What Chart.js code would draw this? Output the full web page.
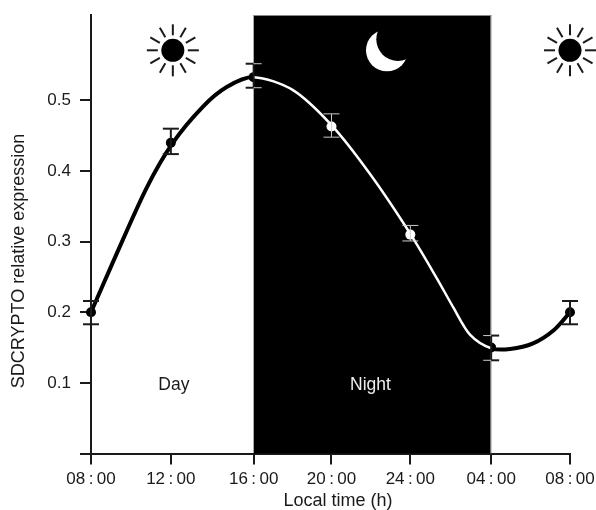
<!DOCTYPE html>
<html>
<head>
<meta charset="utf-8">
<script src="https://cdn.jsdelivr.net/npm/chart.js@4/dist/chart.umd.min.js"></script>
<style>
  html,body{margin:0;padding:0;background:#fff;}
  canvas{display:block;}
</style>
</head>
<body>
<canvas id="chart" width="596" height="510"></canvas>
<script>
// sampling hours, counted on from 08:00 so the axis keeps going past midnight
const sampleHours = [8, 12, 16.15, 20.05, 24, 28.05, 32];
const tickLabels = ['08\u2009:\u200900','12\u2009:\u200900','16\u2009:\u200900','20\u2009:\u200900','24\u2009:\u200900','04\u2009:\u200900','08\u2009:\u200900'];
const yTicks = [0, 0.1, 0.2, 0.3, 0.4, 0.5];
const meanValues = [0.2, 0.44, 0.533, 0.463, 0.31, 0.15, 0.2];
const errLow  = [0.183, 0.424, 0.518, 0.448, 0.301, 0.132, 0.183];
const errHigh = [0.216, 0.46, 0.552, 0.481, 0.323, 0.167, 0.216];

// the fitted curve
const curveHours  = [8, 9.1, 10.8, 12.1, 13.6, 14.8, 16.15, 18.1, 20.05, 22, 24, 25.35, 26.15, 27, 28.05, 29, 30.15, 31.2, 32];
const curveValues = [0.2, 0.271, 0.377, 0.44, 0.491, 0.519, 0.533, 0.515, 0.465, 0.395, 0.311, 0.247, 0.207, 0.168, 0.149, 0.148, 0.156, 0.175, 0.2];

const nightStart = 16.15, nightEnd = 28.05;
const sunHours = [12.1, 32];
const moonHour = 22.83;
const iconLevel = 0.571;
const labelLevel = 0.1;
const INK = '#1a1a1a';
const FONT = '"Liberation Sans", Arial, sans-serif';

const isNight = h => h > nightStart && h < nightEnd;

function drawSun(c, x, y){
  c.fillStyle = '#000'; c.strokeStyle = INK; c.lineWidth = 2;
  c.beginPath(); c.arc(x, y, 11.5, 0, Math.PI*2); c.fill();
  for(let i=0;i<12;i++){
    const a = i*Math.PI/6;
    c.beginPath();
    c.moveTo(x + Math.cos(a)*15, y + Math.sin(a)*15);
    c.lineTo(x + Math.cos(a)*26, y + Math.sin(a)*26);
    c.stroke();
  }
}

function drawMoon(c, x, y){
  c.save();
  c.fillStyle = '#fff';
  c.beginPath(); c.arc(x, y, 21, 0, Math.PI*2); c.fill();
  c.fillStyle = '#000';
  c.beginPath(); c.arc(x+11, y-11, 21.7, 0, Math.PI*2); c.fill();
  c.restore();
}

// night panel goes under the curve
const nightPanel = {
  id:'nightPanel',
  beforeDatasetsDraw(chart){
    const {ctx:c, scales:{x}, chartArea:a} = chart;
    const l = x.getPixelForValue(nightStart), r = x.getPixelForValue(nightEnd);
    c.save();
    c.fillStyle = '#000';
    c.fillRect(l, a.top, r-l, a.bottom-a.top);
    c.fillStyle = '#888';
    c.fillRect(r-1, a.top, 1, a.bottom-a.top);
    c.fillRect(l, a.top, r-l, 1);
    c.restore();
  }
};

const errorBars = {
  id:'errorBars',
  afterDatasetsDraw(chart){
    const {ctx:c, scales:{x,y}} = chart;
    const capHalf = 8;
    const l = x.getPixelForValue(nightStart), r = x.getPixelForValue(nightEnd);
    const seg = (x0,y0,x1,y1,px) => {
      const dark = px > l && px < r;
      c.strokeStyle = dark ? '#ccc' : INK; c.lineWidth = dark ? 1 : 2;
      c.beginPath(); c.moveTo(x0,y0); c.lineTo(x1,y1); c.stroke();
    };
    c.save();
    sampleHours.forEach((h,i) => {
      const px = x.getPixelForValue(h);
      const lo = y.getPixelForValue(errLow[i]), hi = y.getPixelForValue(errHigh[i]);
      seg(px,lo,px,hi,isNight(h) ? px : (h===nightEnd ? px+1 : px-1));
      [lo,hi].forEach(p => {
        seg(px-capHalf,p,px,p,px-1);
        seg(px,p,px+capHalf,p,px+1);
      });
    });
    c.restore();
  }
};

const annotations = {
  id:'annotations',
  afterDraw(chart){
    const {ctx:c, scales:{x,y}} = chart;
    c.save();
    sunHours.forEach(h => drawSun(c, x.getPixelForValue(h), y.getPixelForValue(iconLevel)));
    drawMoon(c, x.getPixelForValue(moonHour), y.getPixelForValue(iconLevel));
    c.font = '17.5px '+FONT;
    c.textAlign = 'center'; c.textBaseline = 'middle';
    c.fillStyle = INK;
    c.fillText('Day', x.getPixelForValue(12.15), y.getPixelForValue(labelLevel)+2);
    c.fillStyle = '#eee';
    c.fillText('Night', x.getPixelForValue(22), y.getPixelForValue(labelLevel)+2);
    // axis titles sit off-centre in the original, so they are placed here
    c.fillStyle = INK;
    c.font = '18px '+FONT;
    c.fillText('Local time (h)', 338, 501);
    c.translate(19, 261);
    c.rotate(-Math.PI/2);
    c.fillText('SDCRYPTO relative expression', 0, 0);
    c.restore();
  }
};

new Chart(document.getElementById('chart'), {
  type:'line',
  data:{
    datasets:[
      {
        label:'curve',
        data:curveHours.map((h,i)=>({x:h,y:curveValues[i]})),
        borderColor:'#000',
        borderWidth:4,
        pointRadius:0,
        tension:0.3,
        clip:false,
        segment:{
          borderColor:s => isNight((s.p0.parsed.x+s.p1.parsed.x)/2) ? '#fff' : '#000',
          borderWidth:s => isNight((s.p0.parsed.x+s.p1.parsed.x)/2) ? 2.5 : 4
        },
        order:1
      },
      {
        label:'SDCRYPTO',
        data:sampleHours.map((h,i)=>({x:h,y:meanValues[i]})),
        showLine:false,
        pointRadius:5,
        pointBorderWidth:0,
        clip:false,
        pointBackgroundColor:sampleHours.map(h => isNight(h) ? '#fff' : '#000'),
        order:2
      }
    ]
  },
  options:{
    responsive:false,
    animation:false,
    layout:{padding:{top:15,right:26,left:0,bottom:0}},
    plugins:{legend:{display:false},tooltip:{enabled:false}},
    scales:{
      x:{
        type:'linear', min:8, max:32,
        afterBuildTicks:s => { s.ticks = sampleHours.map(v=>({value:v})); },
        afterFit:s => { s.height = 56.5; s.paddingRight = 0; s.paddingLeft = 0; },
        grid:{drawOnChartArea:false,tickLength:11,color:INK,lineWidth:2},
        border:{color:INK,width:2},
        ticks:{
          autoSkip:false,maxRotation:0,padding:5,color:INK,font:{family:FONT,size:17},
          callback:(v,i)=>tickLabels[i]
        }
      },
      y:{
        type:'linear', min:0, max:0.621,
        afterBuildTicks:s => { s.ticks = yTicks.map(v=>({value:v})); },
        afterFit:s => { s.width = 91; s.paddingTop = 0; s.paddingBottom = 0; },
        grid:{drawOnChartArea:false,tickLength:11,color:INK,lineWidth:2},
        border:{color:INK,width:2},
        ticks:{
          padding:9,color:INK,font:{family:FONT,size:17},
          callback:v => v===0 ? '' : v.toFixed(1)
        }
      }
    }
  },
  plugins:[nightPanel,errorBars,annotations]
});
</script>
</body>
</html>
